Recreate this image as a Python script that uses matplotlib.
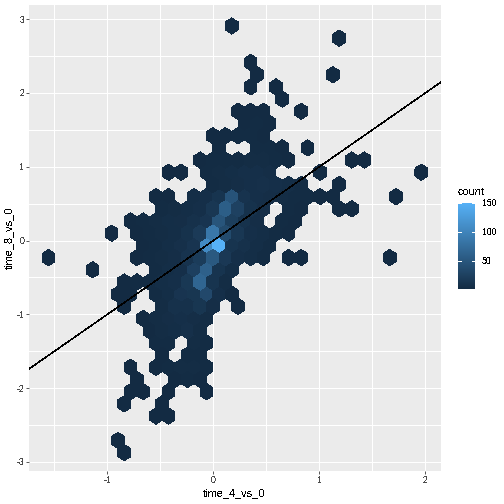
import matplotlib
matplotlib.use("Agg")
import matplotlib.pyplot as plt
import numpy as np
from matplotlib.colors import LinearSegmentedColormap

plt.rcParams['font.family'] = ['Liberation Sans', 'DejaVu Sans']
plt.rcParams['text.antialiased'] = False
plt.rcParams['text.hinting'] = 'default'
plt.rcParams['axes.unicode_minus'] = False

x_label = "time_4_vs_0"
y_label = "time_8_vs_0"
legend_title = "count"
x_ticks = [-1, 0, 1, 2]
y_ticks = [-3, -2, -1, 0, 1, 2, 3]
x_minor = [-1.5, -0.5, 0.5, 1.5]
y_minor = [-2.5, -1.5, -0.5, 0.5, 1.5, 2.5]
legend_ticks = [50, 100, 150]
count_limits = (1, 150)

row_y = [2.91, 2.74, 2.41, 2.25, 2.08, 1.92, 1.75, 1.59, 1.42, 1.26, 1.09, 0.93, 0.76, 0.60,
         0.43, 0.27, 0.10, -0.06, -0.23, -0.39, -0.56, -0.73, -0.89, -1.06, -1.22, -1.39,
         -1.55, -1.72, -1.88, -2.05, -2.21, -2.38, -2.71, -2.87]
row_x = [
    [0.17],
    [1.19],
    [0.35],
    [0.41, 1.13],
    [0.35, 0.59],
    [0.65],
    [0.23, 0.35, 0.47, 0.83],
    [0.29, 0.41, 0.53],
    [-0.01, 0.11, 0.23, 0.35, 0.47],
    [0.05, 0.41, 0.53, 0.65, 0.89],
    [-0.12, -0.01, 0.11, 0.23, 0.35, 0.47, 0.59, 0.71, 1.31, 1.43],
    [-0.42, -0.30, -0.07, 0.05, 0.17, 0.29, 0.41, 0.53, 1.01, 1.96],
    [-0.01, 0.11, 0.23, 0.35, 0.47, 0.59, 0.71, 0.83, 1.19],
    [-0.54, -0.42, -0.18, -0.07, 0.05, 0.17, 0.29, 0.41, 0.53, 0.65, 0.77, 0.89, 1.01, 1.13, 1.72],
    [-0.48, -0.36, -0.24, -0.12, -0.01, 0.11, 0.23, 0.35, 0.47, 0.71, 0.83, 1.19, 1.31],
    [-0.78, -0.66, -0.54, -0.42, -0.30, -0.18, -0.07, 0.05, 0.17, 0.29, 0.41, 0.65, 0.77],
    [-0.96, -0.72, -0.60, -0.48, -0.36, -0.24, -0.12, -0.01, 0.11, 0.23, 0.35, 0.47, 0.59, 0.71],
    [-0.66, -0.54, -0.42, -0.30, -0.18, -0.07, 0.05, 0.17, 0.29, 0.41, 0.53],
    [-1.56, -0.72, -0.60, -0.48, -0.36, -0.24, -0.12, -0.01, 0.11, 0.23, 0.35, 0.47, 0.71, 0.83, 1.66],
    [-1.14, -0.54, -0.42, -0.30, -0.18, -0.07, 0.05, 0.17],
    [-0.84, -0.72, -0.60, -0.48, -0.36, -0.24, -0.12, -0.01, 0.11],
    [-0.90, -0.78, -0.54, -0.42, -0.30, -0.18, -0.07, 0.05, 0.17],
    [-0.84, -0.48, -0.36, -0.24, -0.12, -0.01, 0.23],
    [-0.66, -0.54, -0.42, -0.30, -0.18, -0.07],
    [-0.60, -0.48, -0.36, -0.24, -0.12],
    [-0.54, -0.42, -0.18, -0.07],
    [-0.48, -0.24, -0.12],
    [-0.78, -0.54, -0.42, -0.30, -0.18, -0.07],
    [-0.72, -0.36, -0.24, -0.12],
    [-0.78, -0.66, -0.42, -0.07],
    [-0.84, -0.48],
    [-0.54, -0.42],
    [-0.90],
    [-0.84],
]
row_count = [
    [1],
    [1],
    [1],
    [1, 1],
    [1, 1],
    [1],
    [1, 1, 1, 1],
    [1, 2, 1],
    [1, 1, 2, 2, 1],
    [1, 2, 2, 1, 1],
    [1, 2, 2, 2, 3, 3, 2, 1, 1, 1],
    [1, 1, 2, 3, 4, 6, 6, 5, 1, 1],
    [2, 3, 5, 6, 7, 6, 4, 2, 1],
    [1, 1, 4, 6, 11, 46, 10, 6, 5, 3, 2, 2, 1, 1, 1],
    [2, 3, 4, 6, 14, 58, 26, 9, 5, 2, 1, 1, 1],
    [1, 2, 3, 4, 5, 8, 12, 48, 22, 9, 5, 2, 1],
    [1, 1, 2, 3, 4, 9, 18, 85, 36, 14, 6, 4, 2, 1],
    [1, 2, 4, 7, 12, 105, 150, 11, 8, 4, 2],
    [1, 1, 2, 3, 5, 10, 20, 52, 16, 6, 4, 2, 1, 1, 1],
    [1, 2, 4, 6, 24, 60, 11, 4],
    [1, 2, 2, 4, 6, 15, 66, 11, 3],
    [1, 1, 2, 4, 12, 13, 34, 6, 1],
    [1, 3, 8, 8, 13, 5, 1],
    [1, 3, 5, 6, 5, 3],
    [1, 3, 4, 7, 3],
    [2, 2, 3, 2],
    [1, 2, 2],
    [1, 1, 2, 3, 3, 2],
    [1, 1, 2, 1],
    [1, 1, 1, 1],
    [1, 1],
    [1, 1],
    [1],
    [1],
]

W = H = 504
fig = plt.figure(figsize=(7, 7), dpi=72, facecolor="white")
ax = fig.add_axes([29 / W, 1 - 471 / H, (441 - 29) / W, (471 - 5) / H])
ax.set_facecolor("#EBEBEB")
for s in ax.spines.values():
    s.set_visible(False)
ax.set_axisbelow(True)

cmap = LinearSegmentedColormap.from_list("gg", ["#132B43", "#56B1F7"])

xs = [v for r in row_x for v in r]
ys = [y for y, r in zip(row_y, row_x) for _ in r]
cs = [v for r in row_count for v in r]

hb = ax.hexbin(xs, ys, C=cs, gridsize=(34, 19), extent=(-1.8537, 2.2008, -3.0385, 3.2383),
               reduce_C_function=np.sum, cmap=cmap, vmin=count_limits[0], vmax=count_limits[1],
               linewidths=0, edgecolors="none", antialiaseds=False, zorder=3)

ax.axline((0, 0), slope=1, color="black", lw=0.45, zorder=4, antialiased=False)

ax.set_xlim(-1.739, 2.148)
ax.set_ylim(-3.122, 3.192)
ax.set_xticks(x_ticks)
ax.set_yticks(y_ticks)
ax.set_xticks(x_minor, minor=True)
ax.set_yticks(y_minor, minor=True)
ax.grid(which="major", color="white", lw=0.8, antialiased=False)
ax.grid(which="minor", color="white", lw=0.8, antialiased=False)
ax.tick_params(which="minor", length=0)
ax.tick_params(which="major", length=2.75, width=0.8, color="#333333", labelcolor="#4D4D4D",
               labelsize=8.8, pad=2.2)

fig.text(234.5 / W, 1 - 493 / H, x_label, ha="center", va="center", fontsize=11, color="black")
fig.text(9.5 / W, 1 - 238 / H, y_label, ha="center", va="center", rotation=90, fontsize=11, color="black")

cax = fig.add_axes([458 / W, 1 - 289 / H, 17 / W, 86 / H])
cb = fig.colorbar(hb, cax=cax, ticks=legend_ticks)
cb.outline.set_visible(False)
cax.tick_params(length=0, labelsize=8.8, labelcolor="black", pad=7)
trans = cax.get_yaxis_transform()
cax.hlines(legend_ticks, 0, 0.2, colors="white", lw=0.8, transform=trans, antialiased=False)
cax.hlines(legend_ticks, 0.8, 1, colors="white", lw=0.8, transform=trans, antialiased=False)
fig.text(458 / W, 1 - 192 / H, legend_title, ha="left", va="center", fontsize=11, color="black")

fig.savefig("out.png", dpi=72)
